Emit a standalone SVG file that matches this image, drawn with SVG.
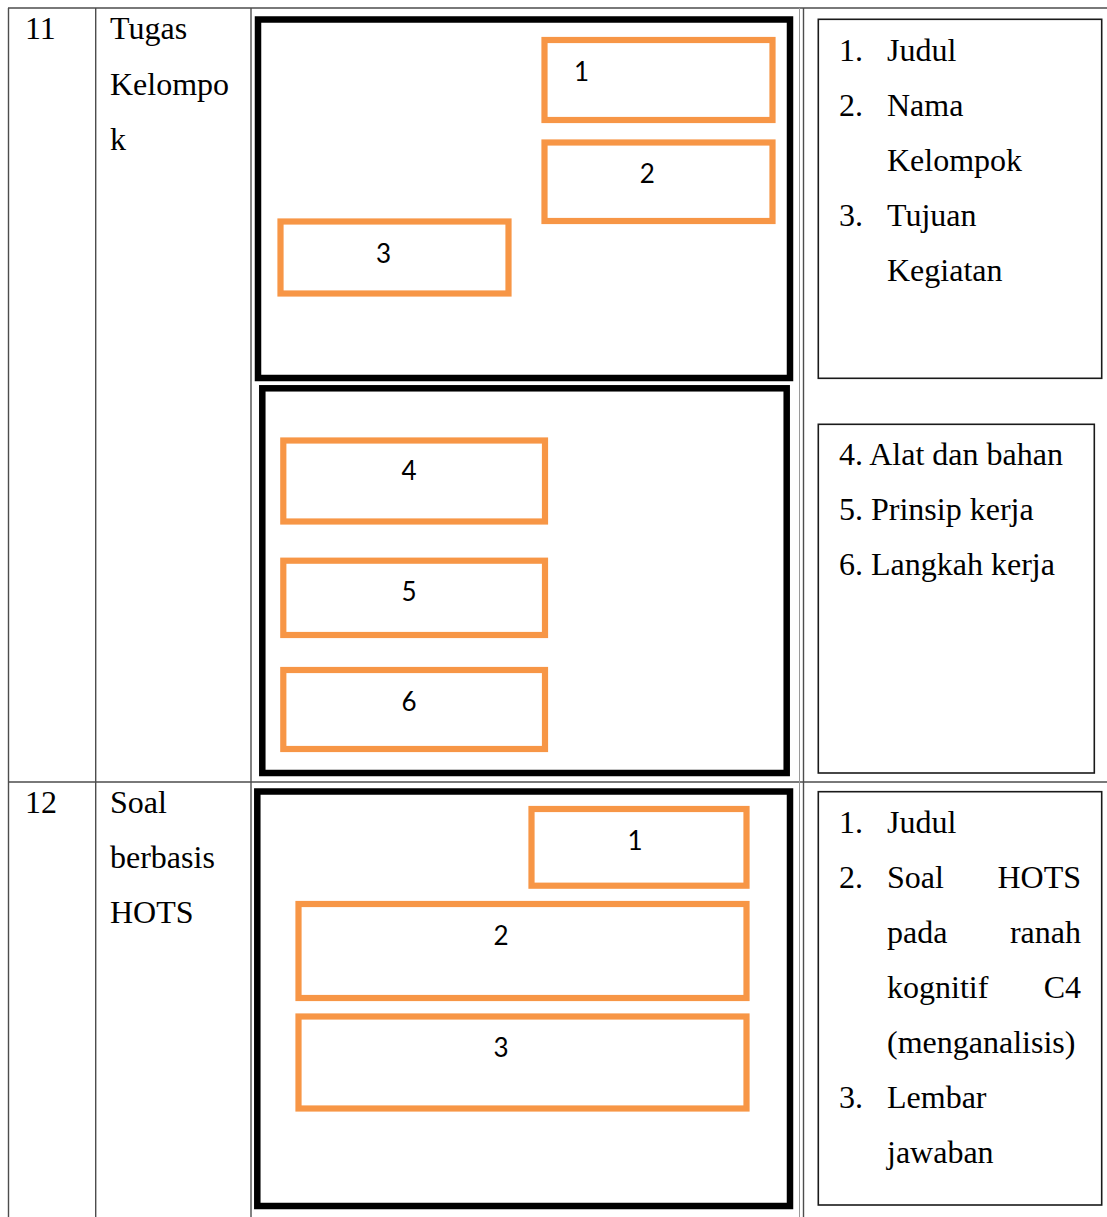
<svg xmlns="http://www.w3.org/2000/svg" width="1107" height="1217" viewBox="0 0 1107 1217">
<style>
.grid{stroke:#4d4d4d;stroke-width:1.4;fill:none}
.faint{stroke:#9a9a9a;stroke-width:1;fill:none}
.frame{fill:none;stroke:#000;stroke-width:6.5}
.slot{fill:#fff;stroke:#F79646;stroke-width:6.2}
.note{fill:#fff;stroke:#1a1a1a;stroke-width:1.6}
.lbl{font-family:Lato,"Open Sans",sans-serif;font-size:26px;fill:#000}
.t{font-family:"Liberation Serif","Times New Roman",serif;font-size:32px;fill:#000}
.c{text-anchor:middle}
.e{text-anchor:end}
</style>
<rect width="1107" height="1217" fill="#fff"/>
<g id="table">
<line class="grid" x1="8" y1="8" x2="1107" y2="8"/>
<line class="grid" x1="8" y1="782" x2="1107" y2="782"/>
<line class="grid" x1="8.5" y1="8" x2="8.5" y2="1217"/>
<line class="grid" x1="95.7" y1="8" x2="95.7" y2="1217"/>
<line class="grid" x1="251" y1="8" x2="251" y2="1217"/>
<line class="grid" x1="803.5" y1="8" x2="803.5" y2="1217"/>
<line class="faint" x1="799.5" y1="8" x2="799.5" y2="1217"/>
<text class="t" x="25" y="39">11</text>
<text class="t" x="110" y="39">Tugas</text>
<text class="t" x="110" y="94.5">Kelompo</text>
<text class="t" x="110" y="149.5">k</text>
<text class="t" x="25" y="813">12</text>
<text class="t" x="110" y="813">Soal</text>
<text class="t" x="110" y="868">berbasis</text>
<text class="t" x="110" y="923">HOTS</text>
</g>
<g id="layout-1">
<rect class="frame" x="258" y="19.5" width="532" height="358.5"/>
<g id="l1-slot1"><rect class="slot" x="544.5" y="40" width="228" height="80"/><text class="lbl c" x="581.5" y="81">1</text></g>
<g id="l1-slot2"><rect class="slot" x="544.5" y="142.5" width="228" height="78.5"/><text class="lbl c" x="647.3" y="182.7">2</text></g>
<g id="l1-slot3"><rect class="slot" x="280.5" y="221.5" width="228" height="72"/><text class="lbl c" x="383.5" y="262.7">3</text></g>
</g>
<g id="layout-2">
<rect class="frame" x="262.3" y="388.3" width="524.4" height="384.7"/>
<g id="l2-slot4"><rect class="slot" x="283.3" y="440.5" width="261.7" height="81"/><text class="lbl c" x="409" y="480">4</text></g>
<g id="l2-slot5"><rect class="slot" x="283.3" y="560.7" width="261.7" height="74.3"/><text class="lbl c" x="409" y="601">5</text></g>
<g id="l2-slot6"><rect class="slot" x="283.3" y="670" width="261.7" height="79"/><text class="lbl c" x="409" y="711">6</text></g>
</g>
<g id="layout-3">
<rect class="frame" x="257.3" y="791.5" width="532.7" height="414.5"/>
<g id="l3-slot1"><rect class="slot" x="531.5" y="809" width="215" height="76.7"/><text class="lbl c" x="635" y="850">1</text></g>
<g id="l3-slot2"><rect class="slot" x="298.5" y="904" width="448" height="94"/><text class="lbl c" x="501" y="945">2</text></g>
<g id="l3-slot3"><rect class="slot" x="298.5" y="1016.5" width="448" height="92"/><text class="lbl c" x="501" y="1057">3</text></g>
</g>
<g id="note-1">
<rect class="note" x="818.3" y="19.3" width="283.4" height="359"/>
<text class="t" x="839" y="61">1.</text><text class="t" x="887" y="61">Judul</text>
<text class="t" x="839" y="115.5">2.</text><text class="t" x="887" y="115.5">Nama</text>
<text class="t" x="887" y="170.5">Kelompok</text>
<text class="t" x="839" y="225.5">3.</text><text class="t" x="887" y="225.5">Tujuan</text>
<text class="t" x="887" y="281">Kegiatan</text>
</g>
<g id="note-2">
<rect class="note" x="818.3" y="424.3" width="276" height="348.7"/>
<text class="t" x="839" y="465">4. Alat dan bahan</text>
<text class="t" x="839" y="520">5. Prinsip kerja</text>
<text class="t" x="839" y="575">6. Langkah kerja</text>
</g>
<g id="note-3">
<rect class="note" x="818.3" y="791.7" width="283.4" height="413.3"/>
<text class="t" x="839" y="833">1.</text><text class="t" x="887" y="833">Judul</text>
<text class="t" x="839" y="888">2.</text><text class="t" x="887" y="888">Soal</text><text class="t e" x="1081" y="888">HOTS</text>
<text class="t" x="887" y="943">pada</text><text class="t e" x="1081" y="943">ranah</text>
<text class="t" x="887" y="998">kognitif</text><text class="t e" x="1081" y="998">C4</text>
<text class="t" x="887" y="1053">(menganalisis)</text>
<text class="t" x="839" y="1108">3.</text><text class="t" x="887" y="1108">Lembar</text>
<text class="t" x="887" y="1163">jawaban</text>
</g>
<g id="connectors"/>
</svg>
